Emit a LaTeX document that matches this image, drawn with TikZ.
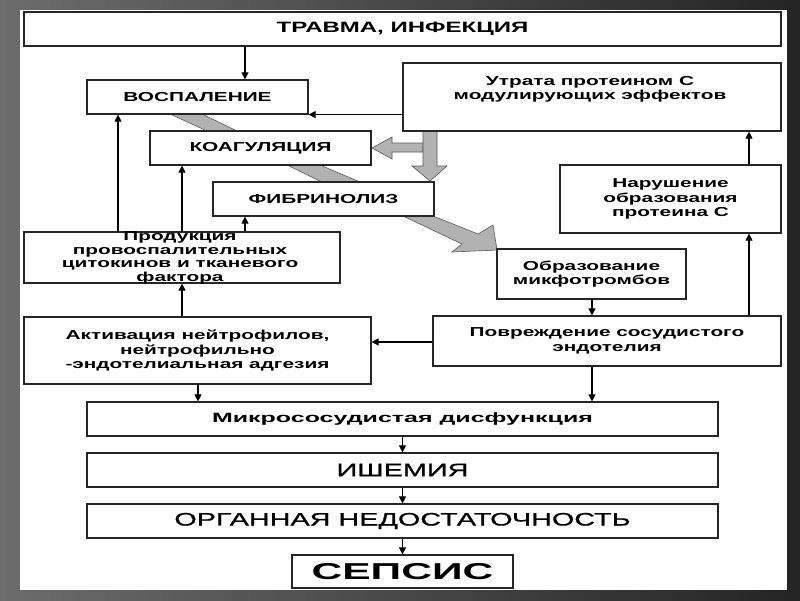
\documentclass[tikz,border=0pt]{standalone}
\usepackage{fontspec}
\setmainfont{Liberation Sans}[FakeStretch=1.6]
\newfontfamily\widef{Liberation Sans}[FakeStretch=1.85]
\newfontfamily\medf{Liberation Sans}[FakeStretch=1.6, FakeBold=0.9]
\usetikzlibrary{arrows.meta}
\begin{document}
\begin{tikzpicture}[x=1pt,y=-1pt,
  box/.style={draw=black!85, line width=1.2pt, fill=white, rectangle, inner sep=0pt, align=center,
    font=\fontsize{13}{14.5}\selectfont\bfseries},
  txt/.style={inner sep=0pt, align=center, font=\fontsize{13}{14.5}\selectfont\bfseries},
  arr/.style={line width=1.1pt, -{Triangle[length=7pt,width=7pt]}},
  blk/.style={fill=black!30, draw=black!65, line width=0.6pt}]
\useasboundingbox (0,0) rectangle (800,600);
\shade[left color={rgb,255:red,108;green,108;blue,108}, right color={rgb,255:red,36;green,36;blue,36}] (0,0) rectangle (800,600);
\fill[white] (20,10) rectangle (787,590);

% helper coordinates
\coordinate (v118) at (118,0);
\coordinate (v182) at (182,0);
\coordinate (v198) at (198,0);
\coordinate (v245) at (245,0);
\coordinate (v592) at (592,0);
\coordinate (v749) at (749,0);
\coordinate (h342) at (0,342);

% gray block arrows
\filldraw[blk] (170,114) -- (202,114) -- (237,131) -- (207,131) -- cycle;
\filldraw[blk] (287,165) -- (320,165) -- (360,182) -- (322,182) -- cycle;
\filldraw[blk] (403,216) -- (433,216) -- (478,234) -- (493,225) -- (497,250) -- (452,252) -- (462,244) -- cycle;
\filldraw[blk] (423,143) -- (392,143) -- (392,137) -- (372,148) -- (392,159) -- (392,152) -- (423,152) -- cycle;
\filldraw[blk] (423,131) -- (437,131) -- (437,166) -- (447,166) -- (430,181) -- (412,166) -- (423,166) -- cycle;

% boxes
\node[box, minimum width=757pt, minimum height=34pt, font=\fontsize{15}{16}\selectfont\bfseries] (trauma) at (402.5,29) {ТРАВМА, ИНФЕКЦИЯ};
\node[box, minimum width=221pt, minimum height=34pt] (vosp) at (197.5,97) {ВОСПАЛЕНИЕ};
\node[box, minimum width=378pt, minimum height=68pt] (utrata) at (592,97) {};
\node[txt] (utratatxt) at (590,89.5) {Утрата протеином С\\модулирующих эффектов};
\node[box, minimum width=221pt, minimum height=34pt] (koag) at (260.5,148) {КОАГУЛЯЦИЯ};
\node[box, minimum width=221pt, minimum height=34pt] (fibr) at (323.5,199) {ФИБРИНОЛИЗ};
\node[box, minimum width=221pt, minimum height=68pt] (narush) at (670.5,199) {Нарушение\\образования\\протеина С};
\node[box, minimum width=316pt, minimum height=51pt] (prod) at (182,257.5) {};
\node[txt, font=\fontsize{13}{13.6}\selectfont\bfseries] (prodtxt) at (180,258) {Продукция\\провоспалительных\\цитокинов и тканевого\\фактора};
\node[box, minimum width=189pt, minimum height=50pt] (obraz) at (591.5,274) {Образование\\микфотромбов};
\node[box, minimum width=347pt, minimum height=67pt] (activ) at (197.5,350.5) {Активация нейтрофилов,\\нейтрофильно\\-эндотелиальная адгезия};
\node[box, minimum width=348pt, minimum height=50pt] (povr) at (607,341) {Повреждение сосудистого\\эндотелия};
\node[box, minimum width=631pt, minimum height=34pt, font=\fontsize{13.5}{15}\widef\bfseries] (micro) at (402.5,419) {Микрососудистая дисфункция};
\node[box, minimum width=631pt, minimum height=34pt, font=\fontsize{18}{19}\medf] (ishem) at (402.5,470) {ИШЕМИЯ};
\node[box, minimum width=631pt, minimum height=34pt, font=\fontsize{18}{19}\medf] (organ) at (402.5,521) {ОРГАННАЯ НЕДОСТАТОЧНОСТЬ};
\node[box, minimum width=221pt, minimum height=33pt, font=\fontsize{23}{24}\widef\bfseries] (sepsis) at (402.5,571.5) {СЕПСИС};

% thin arrows
\draw[arr] (trauma.south -| v245) -- (vosp.north -| v245);
\draw[arr] (utrata.west |- vosp.south) -- (vosp.south east);
\draw[arr] (prod.north -| v118) -- (vosp.south -| v118);
\draw[arr] (prod.north -| v182) -- (koag.south -| v182);
\draw[arr] (prod.north -| v245) -- (fibr.south -| v245);
\draw[arr] (activ.north -| v182) -- (prod.south -| v182);
\draw[arr] (activ.south -| v198) -- (micro.north -| v198);
\draw[arr] (povr.west |- h342) -- (activ.east |- h342);
\draw[arr] (obraz.south -| v592) -- (povr.north -| v592);
\draw[arr] (povr.south -| v592) -- (micro.north -| v592);
\draw[arr] (povr.north -| v749) -- (narush.south -| v749);
\draw[arr] (narush.north -| v749) -- (utrata.south -| v749);
\draw[arr] (micro.south) -- (ishem.north);
\draw[arr] (ishem.south) -- (organ.north);
\draw[arr] (organ.south) -- (sepsis.north);
\end{tikzpicture}
\end{document}
